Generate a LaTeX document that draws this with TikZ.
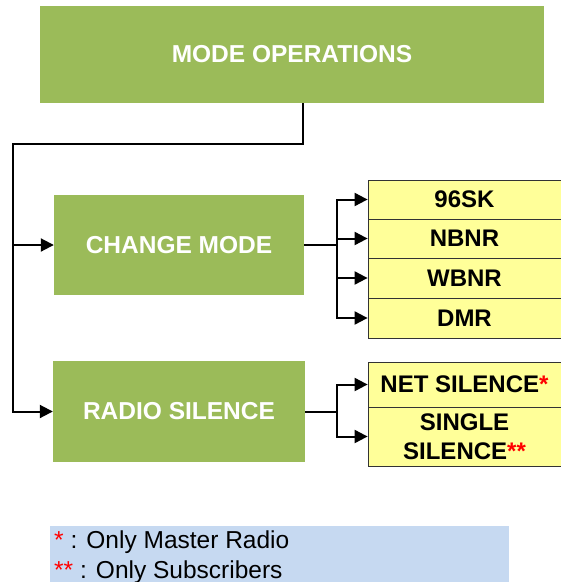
\documentclass[tikz,border=0pt]{standalone}
\usepackage{fontspec}
\setmainfont{Liberation Sans}
\usetikzlibrary{arrows.meta}
\definecolor{grn}{HTML}{9BBB59}
\definecolor{ylw}{HTML}{FFFF99}
\definecolor{blu}{HTML}{C6D9F1}
\definecolor{strred}{HTML}{FF0000}
\tikzset{
  greenbox/.style={fill=grn, draw=none, text=white, inner sep=0pt,
    font=\fontsize{24.5}{28}\selectfont\bfseries},
  yellowbox/.style={fill=ylw, draw=black!80, line width=0.8pt, inner sep=0pt,
    minimum width=193pt, align=center,
    font=\fontsize{24}{29}\selectfont\bfseries},
  conn/.style={line width=2pt, draw=black},
  arr/.style={conn, -{Triangle[length=13pt,width=13pt]}},
  legend/.style={anchor=base west, inner sep=0pt, font=\fontsize{24.5}{28}\selectfont}
}
\newcommand{\rst}[1]{\textcolor{strred}{#1}}
\begin{document}
\begin{tikzpicture}[x=1pt,y=-1pt]
\useasboundingbox (0,0) rectangle (561,582);
% main boxes
\node[greenbox, minimum width=504pt, minimum height=97pt] (mo) at (292,54.5) {MODE OPERATIONS};
\node[greenbox, minimum width=250pt, minimum height=100pt] (cm) at (179,245) {CHANGE MODE};
\node[greenbox, minimum width=252pt, minimum height=101pt] (rs) at (179,411.5) {RADIO SILENCE};
% mode boxes
\node[yellowbox, minimum height=39pt] (s96) at (464.5,199.5) {96SK};
\node[yellowbox, minimum height=39pt] (nb) at (464.5,238.5) {NBNR};
\node[yellowbox, minimum height=40pt] (wb) at (464.5,278) {WBNR};
\node[yellowbox, minimum height=40pt] (dm) at (464.5,318) {DMR};
% silence boxes
\node[yellowbox, minimum height=45pt] (ns) at (464.5,384.5) {NET SILENCE\rst{*}};
\node[yellowbox, minimum height=59pt] (ss) at (464.5,436.5) {SINGLE\\SILENCE\rst{**}};
% connectors
\coordinate (trunk) at (13,144);
\draw[arr] ([xshift=11pt]mo.south) |- (trunk) |- (rs.west);
\draw[arr] (trunk |- cm.west) -- (cm.west);
\coordinate (cj) at (337,245);
\draw[conn] (cm.east) -- (cj);
\draw[arr] (cj) |- (s96.west);
\draw[arr] (cj) |- (nb.west);
\draw[arr] (cj) |- (wb.west);
\draw[arr] (cj) |- (dm.west);
\coordinate (rj) at (337,411.5);
\draw[conn] (rs.east) -- (rj);
\draw[arr] (rj) |- (ns.west);
\draw[arr] (rj) |- (ss.west);
% legend
\fill[blu] (50,526) rectangle (509,582);
\node[legend] (l1) at (54,548) {\rst{*} : Only Master Radio};
\node[legend] (l2) at (54,578) {\rst{**} : Only Subscribers};
\end{tikzpicture}
\end{document}
